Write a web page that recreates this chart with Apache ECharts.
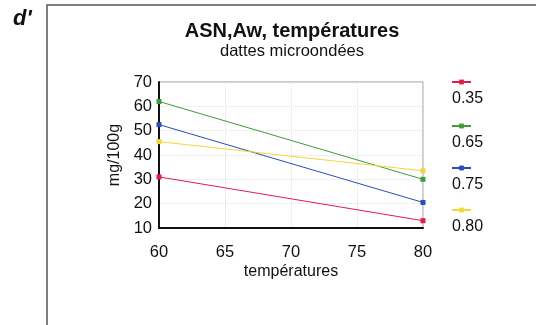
<!DOCTYPE html>
<html>
<head>
    <meta charset="utf-8">
    <title>ASN,Aw, températures</title>
    <script src="https://cdn.jsdelivr.net/npm/echarts@6/dist/echarts.min.js"></script>
    <style>
        body { margin: 0; background: #fff; }
    </style>
</head>
<body>
    <div id="chart" style="width: 536px; height: 325px;"></div>
    <script>
        // données
        const temperatures = [60, 80];
        const awNames = ['0.35', '0.65', '0.75', '0.80'];
        const asn035 = [31, 13];
        const asn065 = [62, 30];
        const asn075 = [52.5, 20.5];
        const asn080 = [45.5, 33.5];
        const yTicks = [10, 20, 30, 40, 50, 60, 70];

        const colors = ['#e01c4c', '#3f9c3a', '#2a4db8', '#f2d83a'];
        const allValues = [asn035, asn065, asn075, asn080];

        const font = 'Liberation Sans, Arial, sans-serif';

        const series = awNames.map(function (name, i) {
            return {
                name: name,
                type: 'line',
                data: temperatures.map(function (t, j) { return [t, allValues[i][j]]; }),
                symbol: 'rect',
                symbolSize: 5,
                lineStyle: { width: 1, color: colors[i] },
                itemStyle: { color: colors[i] },
                animation: false
            };
        });

        // une légende par série : icône en haut, texte en dessous
        const legendTops = [74, 118, 160, 202];
        const legendTexts = awNames.map(function (name, i) {
            return {
                type: 'text',
                left: 452,
                top: legendTops[i] + 17,
                style: { text: name, font: '16px ' + font, fill: '#111' }
            };
        });
        const legends = awNames.map(function (name, i) {
            return {
                data: [name],
                left: 446,
                top: legendTops[i],
                itemWidth: 19,
                itemHeight: 6,
                formatter: function () { return ''; },
                selectedMode: false
            };
        });

        const option = {
            backgroundColor: '#fff',
            title: {
                text: 'ASN,Aw, températures',
                subtext: 'dattes microondées',
                left: 287,
                textAlign: 'center',
                top: 16,
                itemGap: 2,
                textStyle: { fontFamily: font, fontSize: 20, fontWeight: 'bold', color: '#111' },
                subtextStyle: { fontFamily: font, fontSize: 16.5, color: '#111' }
            },
            legend: legends,
            grid: {
                left: 159,
                right: 113,
                top: 82,
                bottom: 97,
                show: true,
                borderColor: '#999',
                borderWidth: 1
            },
            xAxis: {
                type: 'value',
                min: 60,
                max: 80,
                interval: 5,
                name: 'températures',
                nameLocation: 'middle',
                nameGap: 36,
                nameTextStyle: { fontFamily: font, fontSize: 16, color: '#111' },
                axisLine: { show: true, lineStyle: { color: '#111', width: 2 } },
                axisTick: { show: false },
                axisLabel: { fontFamily: font, fontSize: 16.5, color: '#111', margin: 16 },
                splitLine: { show: true, lineStyle: { color: '#e2e2e2', type: 'dotted', width: 1 } }
            },
            yAxis: {
                type: 'value',
                min: yTicks[0],
                max: yTicks[yTicks.length - 1],
                interval: 10,
                name: 'mg/100g',
                nameLocation: 'middle',
                nameGap: 36,
                nameTextStyle: { fontFamily: font, fontSize: 16, color: '#111' },
                axisLine: { show: true, lineStyle: { color: '#111', width: 2 } },
                axisTick: { show: false },
                axisLabel: { fontFamily: font, fontSize: 16.5, color: '#111', margin: 7 },
                splitLine: { show: true, lineStyle: { color: '#e2e2e2', type: 'dotted', width: 1 } }
            },
            series: series,
            graphic: [
                {
                    type: 'text',
                    left: 13,
                    top: 8,
                    style: { text: "d'", font: 'italic bold 22px ' + font, fill: '#111' }
                },
                {
                    type: 'polyline',
                    shape: { points: [[47, 325], [47, 5], [536, 5]] },
                    style: { stroke: '#555', lineWidth: 1.5, fill: null }
                }
            ].concat(legendTexts)
        };

        const myChart = echarts.init(document.getElementById('chart'));
        myChart.setOption(option);
    </script>
</body>
</html>
